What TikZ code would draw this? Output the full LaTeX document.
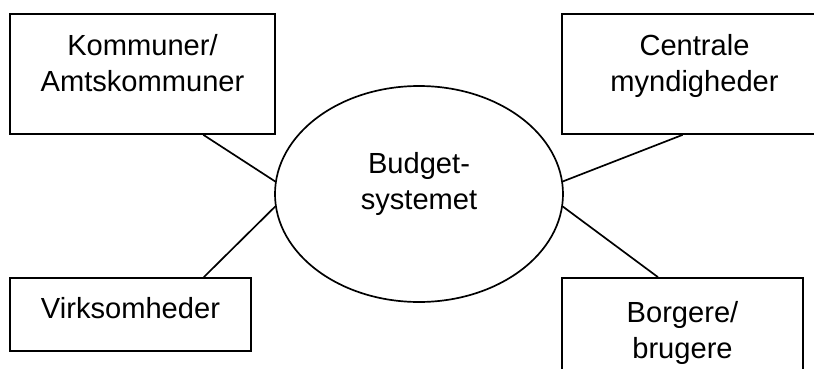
\documentclass[tikz,border=0pt]{standalone}
\usepackage{fontspec}
\setmainfont{Liberation Sans}
\usetikzlibrary{shapes.geometric}

% empty strut that only adds depth below the last line
\newcommand{\padbelow}[1]{\rule[-#1]{0pt}{#1}}

\begin{document}
\begin{tikzpicture}[
    box/.style={draw, line width=1.2pt, align=center, inner sep=0pt,
                font=\fontsize{20.7}{25.6}\selectfont},
    hub/.style={draw, ellipse, line width=1.2pt, align=center, inner sep=0pt,
                minimum width=7.2cm, minimum height=5.4cm,
                font=\fontsize{20.7}{25.6}\selectfont},
    link/.style={line width=1.2pt}
  ]
  \useasboundingbox (-10.475,-4.35) rectangle (9.875,4.85);
  \clip (-10.475,-4.35) rectangle (9.875,4.85);

  %% The budget system in the middle
  \node (sys) [hub] at (0,0) {Budget-\\systemet\padbelow{18pt}};

  %% Parties around it
  \node (kom) [box, minimum width=6.625cm, minimum height=3cm]
        at (-6.9125,3) {Kommuner/\\Amtskommuner\padbelow{16pt}};
  \node (cen) [box, minimum width=6.625cm, minimum height=3cm]
        at (6.8875,3) {Centrale\\myndigheder\padbelow{16pt}};
  \node (virk) [box, minimum width=6.025cm, minimum height=1.825cm]
        at (-7.2125,-3.0125) {Virksomheder\padbelow{9.7pt}};
  \node (borg) [box, minimum width=6.025cm, minimum height=3.15cm]
        at (6.5875,-3.675) {Borgere/\\brugere\padbelow{16pt}};

  %% Links to the system
  \draw[link] (kom.-45)  -- (sys.175);
  \draw[link] (cen.259)  -- (sys.5);
  \draw[link] (virk.27)  -- (sys.185);
  \draw[link] (borg.111) -- (sys.-5);

\end{tikzpicture}
\end{document}
